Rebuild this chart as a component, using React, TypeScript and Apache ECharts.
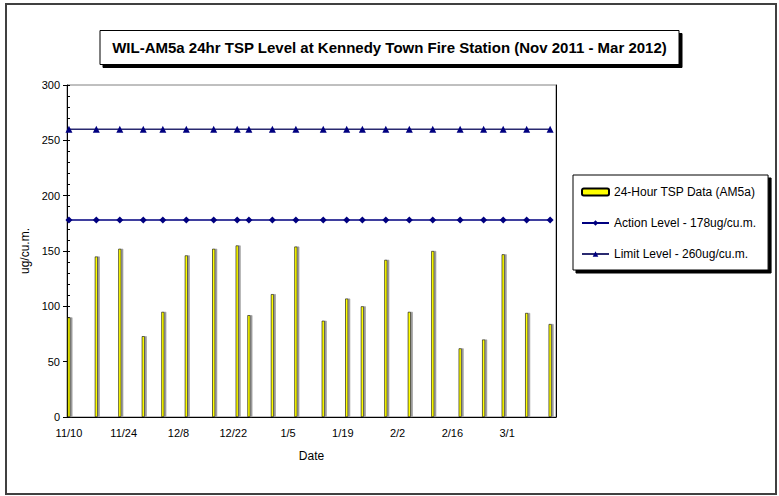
import React, { useEffect, useRef } from "react";
import * as echarts from "echarts";

// ---- Data ----
const axisStartDate = "2011-11-10";
const axisEndDate = "2012-03-13";

const sampleDates = [
  "2011-11-10", "2011-11-17", "2011-11-23", "2011-11-29", "2011-12-04",
  "2011-12-10", "2011-12-17", "2011-12-23", "2011-12-26", "2012-01-01",
  "2012-01-07", "2012-01-14", "2012-01-20", "2012-01-24", "2012-01-30",
  "2012-02-05", "2012-02-11", "2012-02-18", "2012-02-24", "2012-02-29",
  "2012-03-06", "2012-03-12",
];

const tspValues = [
  90, 145, 152, 73, 95,
  146, 152, 155, 92, 111,
  154, 87, 107, 100, 142,
  95, 150, 62, 70, 147,
  94, 84,
];

const actionLevel = 178;
const limitLevel = 260;

const seriesNames = [
  "24-Hour TSP Data (AM5a)",
  "Action Level - 178ug/cu.m.",
  "Limit Level - 260ug/cu.m.",
];

const titleText =
  "WIL-AM5a 24hr TSP Level at Kennedy Town Fire Station (Nov 2011 - Mar 2012)";

// ---- Build day categories ----
function buildDays(start: string, end: string) {
  const keys: string[] = [];
  const labels: string[] = [];
  const s = Date.parse(start + "T00:00:00Z");
  const e = Date.parse(end + "T00:00:00Z");
  for (let t = s; t <= e; t += 86400000) {
    const d = new Date(t);
    keys.push(d.toISOString().slice(0, 10));
    labels.push(`${d.getUTCMonth() + 1}/${d.getUTCDate()}`);
  }
  return { keys, labels };
}

const FONT = "'Liberation Sans', Arial, sans-serif";

export default function App() {
  const ref = useRef<HTMLDivElement>(null);

  useEffect(() => {
    if (!ref.current) return;
    const chart = echarts.init(ref.current, undefined, { renderer: "svg" });
    const { keys, labels } = buildDays(axisStartDate, axisEndDate);
    const barData = keys.map((k) => {
      const i = sampleDates.indexOf(k);
      return i >= 0 ? tspValues[i] : null;
    });
    const actionData = keys.map((k) => (sampleDates.indexOf(k) >= 0 ? actionLevel : null));
    const limitData = keys.map((k) => (sampleDates.indexOf(k) >= 0 ? limitLevel : null));

    chart.setOption({
      animation: false,
      backgroundColor: "#fff",
      textStyle: { fontFamily: FONT },
      title: {
        text: titleText,
        left: "center",
        top: 30,
        padding: [10, 12, 10, 12],
        backgroundColor: "#fff",
        borderColor: "#000",
        borderWidth: 1,
        shadowColor: "#000",
        shadowBlur: 0,
        shadowOffsetX: 3,
        shadowOffsetY: 3,
        textStyle: { fontFamily: FONT, fontWeight: "bold", fontSize: 15, color: "#000" },
      },
      legend: {
        orient: "vertical",
        left: 573,
        top: 175,
        padding: [10, 12, 9, 8],
        itemGap: 17,
        itemWidth: 27,
        itemHeight: 7,
        backgroundColor: "#fff",
        borderColor: "#000",
        borderWidth: 1,
        shadowColor: "#000",
        shadowBlur: 0,
        shadowOffsetX: 3,
        shadowOffsetY: 3,
        textStyle: { fontFamily: FONT, fontSize: 12, color: "#000", lineHeight: 14 },
        data: seriesNames,
      },
      grid: { left: 67, right: 223, top: 85, bottom: 79, show: true, borderColor: "#808080", borderWidth: 1 },
      xAxis: {
        type: "category",
        data: labels,
        boundaryGap: true,
        name: "Date",
        nameLocation: "middle",
        nameGap: 33,
        nameTextStyle: { fontFamily: FONT, fontSize: 12, color: "#000" },
        axisLine: { lineStyle: { color: "#000", width: 1 } },
        axisTick: { interval: 13, length: 4, lineStyle: { color: "#000" } },
        axisLabel: { interval: 13, fontFamily: FONT, fontSize: 11, color: "#000", margin: 10 },
        splitLine: { show: false },
      },
      yAxis: [
        {
          type: "value",
          min: 0,
          max: 300,
          interval: 50,
          name: "ug/cu.m.",
          nameLocation: "middle",
          nameGap: 33,
          nameRotate: 90,
          nameTextStyle: { fontFamily: FONT, fontSize: 12, color: "#000" },
          axisLine: { show: true, lineStyle: { color: "#000", width: 1 } },
          axisTick: { show: true, length: 4, lineStyle: { color: "#000" } },
          axisLabel: { fontFamily: FONT, fontSize: 11, color: "#000", margin: 7 },
          splitLine: { show: false },
        },
        {
          type: "value",
          min: 0,
          max: 300,
          interval: 50,
          position: "left",
          axisLine: { show: false },
          axisTick: { show: true, inside: true, length: 3, lineStyle: { color: "#000" } },
          minorTick: { show: true, splitNumber: 5, length: 3, lineStyle: { color: "#000" } },
          axisLabel: { show: false },
          splitLine: { show: false },
        },
        {
          type: "value",
          min: 0,
          max: 300,
          interval: 50,
          position: "right",
          axisLine: { show: true, lineStyle: { color: "#000", width: 1 } },
          axisTick: { show: false },
          axisLabel: { show: false },
          splitLine: { show: false },
        },
      ],
      series: [
        {
          name: seriesNames[0],
          type: "bar",
          data: barData,
          barWidth: 3,
          barGap: "-100%",
          itemStyle: {
            color: "#FFFF00",
            borderColor: "#000",
            borderWidth: 0.6,
            shadowColor: "#9a9a9a",
            shadowBlur: 0,
            shadowOffsetX: 2,
            shadowOffsetY: 0,
          },
          emphasis: { disabled: true },
          z: 2,
        },
        {
          name: seriesNames[1],
          type: "line",
          data: actionData,
          connectNulls: true,
          symbol: "diamond",
          symbolSize: 7,
          showAllSymbol: true,
          lineStyle: { color: "#000080", width: 1.5 },
          itemStyle: { color: "#000080" },
          emphasis: { disabled: true },
          z: 3,
        },
        {
          name: seriesNames[2],
          type: "line",
          data: limitData,
          connectNulls: true,
          symbol: "triangle",
          symbolSize: 7,
          showAllSymbol: true,
          lineStyle: { color: "#2a2a70", width: 1.5 },
          itemStyle: { color: "#000080" },
          emphasis: { disabled: true },
          z: 3,
        },
      ],
      graphic: [
        {
          type: "rect",
          shape: { x: 6, y: 4, width: 770, height: 490 },
          style: { fill: "none", stroke: "#404040", lineWidth: 2 },
          silent: true,
        },
      ],
    });
    return () => chart.dispose();
  }, []);

  return (
    <div
      ref={ref}
      style={{ position: "fixed", left: 0, top: 0, width: 779, height: 496 }}
    />
  );
}
